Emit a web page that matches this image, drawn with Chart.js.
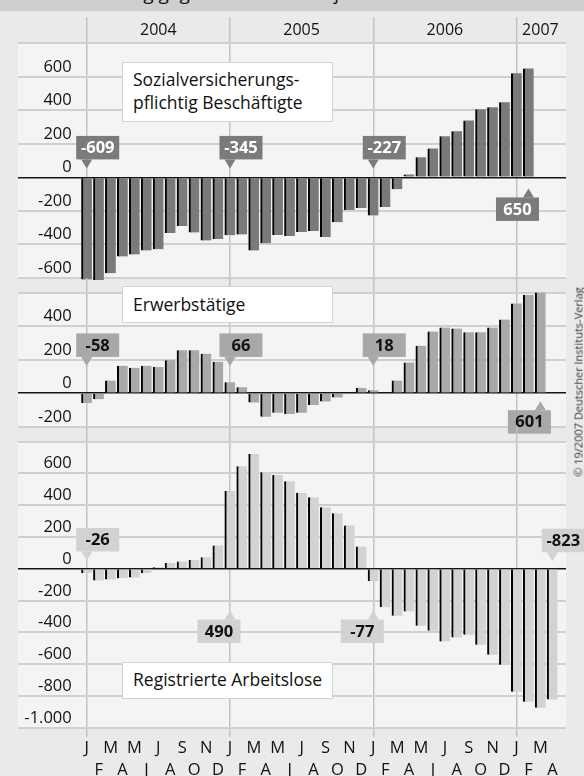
<!DOCTYPE html>
<html lang="de">
<head>
<meta charset="utf-8">
<title>Arbeitsmarkt 2004-2007</title>
<script src="https://cdn.jsdelivr.net/npm/chart.js@4.4.1/dist/chart.umd.min.js"></script>
<style>
  html, body { margin: 0; padding: 0; }
  body { position: relative; width: 584px; height: 776px; overflow: hidden; background: #eaeaea; font-family: "Open Sans", sans-serif; color: #111; }
  #kopf { position: absolute; left: 0; top: 0; width: 584px; height: 11px; background: #cfcfcf; overflow: hidden; }
  #kopf span { position: absolute; left: 38px; top: -16px; font-size: 19px; line-height: 19px; white-space: nowrap; }
  canvas { position: absolute; left: 0; top: 0; }
  .titel { position: absolute; left: 122px; width: 211px; box-sizing: border-box; background: #fff; border: 1.5px solid #d4d4d4; padding-left: 10px; font-size: 17.5px; line-height: 23px; z-index: 5; }
  #quelle { position: absolute; left: 578px; top: 382px; transform: translate(-50%, -50%) rotate(-90deg); white-space: nowrap; font-size: 11px; color: #333; z-index: 5; }
</style>
</head>
<body>
<div id="kopf"><span>Veränderung gegenüber dem Vorjahresmonat in 1.000</span></div>
<canvas id="chartSozial" width="584" height="776"></canvas>
<canvas id="chartErwerb" width="584" height="776"></canvas>
<canvas id="chartArbeitslos" width="584" height="776"></canvas>
<div class="titel" style="top:62px;height:60px;padding-top:5px">Sozialversicherungs-<br>pflichtig Beschäftigte</div>
<div class="titel" style="top:286px;height:37px;padding-top:6px">Erwerbstätige</div>
<div class="titel" style="top:662px;height:37px;padding-top:5px">Registrierte Arbeitslose</div>
<div id="quelle">© 19/2007 Deutscher Instituts-Verlag</div>

<script>
// Veraenderung gegenueber Vorjahresmonat in 1.000, ab Januar 2004
const monate = ['J', 'F', 'M', 'A', 'M', 'J', 'J', 'A', 'S', 'O', 'N', 'D']
const jahre = ['2004', '2005', '2006', '2007']

const sozial = [
  -609, -612, -571, -472, -460, -436, -428, -332, -290, -328, -376, -368,
  -345, -340, -436, -392, -344, -350, -326, -320, -356, -267, -195, -183,
  -227, -177, -70, 18, 121, 173, 245, 275, 340, 406, 418, 448,
  621, 650
]
const erwerb = [
  -58, -36, 76, 164, 152, 164, 156, 196, 256, 256, 236, 188,
  66, 36, -56, -140, -116, -124, -116, -70, -50, -26, 0, 32,
  18, 0, 76, 184, 284, 368, 392, 386, 364, 364, 392, 440,
  536, 586, 601
]
const arbeitslos = [
  -26, -74, -68, -59, -55, -28, 10, 36, 46, 55, 72, 147,
  490, 646, 722, 608, 591, 551, 478, 450, 387, 349, 273, 141,
  -77, -242, -295, -268, -358, -390, -457, -432, -415, -478, -541, -604,
  -773, -836, -874, -823
]

// hervorgehobene Monate (Index ab Januar 2004)
const markenSozial = [0, 12, 24, 37]
const markenErwerb = [0, 12, 24, 38]
const markenArbeitslos = [0, 12, 24, 39]

Chart.defaults.font.family = '"Open Sans", sans-serif'

const X0 = 86.7, SCHRITT = 11.94, LINKS = 80, RECHTS = 566
const xMin = (LINKS - X0) / SCHRITT
const xMax = (RECHTS - X0) / SCHRITT
const GITTER = '#cfcfcf', GITTER_V = '#c2c2c2', NULLLINIE = '#161616', LEER = 'rgba(0,0,0,0)'

let zahl = (v) => (v < 0 ? '-' : '') + String(Math.abs(v)).replace(/\B(?=(\d{3})+(?!\d))/g, '.')

let januar = (c) => (c.tick && c.tick.value % 12 === 0) ? GITTER_V : LEER

/* hellgraue Flaeche hinter jedem Block */
const hintergrund = {
  id: 'hintergrund',
  beforeDraw: (chart) => {
    const { ctx, chartArea, scales } = chart
    ctx.save()
    ctx.fillStyle = '#f3f5f4'
    ctx.fillRect(scales.y.left, chartArea.top, chartArea.right - scales.y.left, chartArea.bottom - chartArea.top)
    ctx.restore()
  }
}

/* Wertefahnen: dy < 0 Spitze nach unten, dy > 0 Spitze nach oben */
let marken = (liste, farbe, schrift) => ({
  id: 'marken',
  afterDatasetsDraw: (chart) => {
    const ctx = chart.ctx
    const sx = chart.scales.x, sy = chart.scales.y
    const y0 = sy.getPixelForValue(0)
    const punkte = chart.data.datasets[0].data
    ctx.save()
    ctx.font = 'bold 16.5px "Open Sans"'
    ctx.textAlign = 'center'
    ctx.textBaseline = 'middle'
    liste.forEach(m => {
      const px = sx.getPixelForValue(m.i)
      const spitze = y0 + m.dy
      const runter = m.dy < 0
      const bx = runter ? px - 10.5 : px - 32.5
      const by = runter ? spitze - 9 - 23.5 : spitze + 9
      const kante = runter ? by + 23.5 : by
      ctx.fillStyle = farbe
      ctx.fillRect(bx, by, 43, 23.5)
      ctx.beginPath()
      ctx.moveTo(px - 5.5, kante)
      ctx.lineTo(px + 5.5, kante)
      ctx.lineTo(px, spitze)
      ctx.closePath()
      ctx.fill()
      ctx.fillStyle = schrift
      ctx.fillText(zahl(punkte[m.i].y), bx + 21.5, by + 12.5)
    })
    ctx.restore()
  }
})

let oben = (hoehe, strich, ticks, beschriftung, abstand) => ({
  type: 'linear', position: 'top', min: xMin, max: xMax, bounds: 'data', offset: false,
  afterBuildTicks: s => { s.ticks = ticks.map(v => ({ value: v })) },
  afterFit: s => { s.height = hoehe },
  border: { display: false },
  grid: { offset: false, color: januar, lineWidth: 1.5, tickLength: strich },
  ticks: { autoSkip: false, maxRotation: 0, minRotation: 0, padding: abstand, color: '#111', font: { size: 16 }, callback: beschriftung }
})

let achseY = (min, max) => ({
  min: min, max: max,
  afterFit: s => { s.width = LINKS - 18 },
  border: { display: false },
  grid: {
    color: c => c.tick.value === 0 ? NULLLINIE : GITTER,
    lineWidth: c => c.tick.value === 0 ? 1.6 : 2,
    tickLength: LINKS - 18
  },
  ticks: { stepSize: 200, padding: -53.7, labelOffset: -9.7, color: '#111', font: { size: 16.5 }, callback: v => v === max ? '' : zahl(v) }
})

let balken = (werte, farbe) => ({
  data: werte.map((v, i) => ({ x: i, y: v })),
  xAxisID: 'x',
  yAxisID: 'y',
  backgroundColor: farbe,
  borderColor: '#000',
  borderWidth: { left: 2, right: 0, top: 0, bottom: 0 },
  borderSkipped: false,
  barThickness: 10.4,
  clip: false
})

let panel = (id, werte, farbe, scales, padding, fahnen) => new Chart(document.getElementById(id), {
  type: 'bar',
  data: { datasets: [balken(werte, farbe)] },
  options: {
    responsive: false,
    animation: false,
    layout: { padding: padding },
    plugins: { legend: { display: false }, tooltip: { enabled: false } },
    scales: scales
  },
  plugins: [hintergrund, fahnen]
})

/* Sozialversicherungspflichtig Beschaeftigte */
panel('chartSozial', sozial, '#7a7a7a', {
  x: oben(43.3, 26.3, [0, 6, 12, 18, 24, 30, 36, 38], v => {
    const k = [6, 18, 30, 38].indexOf(v)
    return k < 0 ? '' : jahre[k]
  }, -22.6),
  y: achseY(-600, 800)
}, { left: 18, right: 18, top: 0, bottom: 498 },
  marken(markenSozial.map((i, k) => ({ i: i, dy: k < 3 ? -9 : 11 })), '#7b7b7b', '#ffffff'))

/* Erwerbstaetige */
panel('chartErwerb', erwerb, '#a9a9a9', {
  x: oben(14.7, 14.7, [0, 12, 24, 36], () => '', 0),
  y: achseY(-200, 600)
}, { left: 18, right: 18, top: 278, bottom: 349.3 },
  marken(markenErwerb.map((i, k) => ({ i: i, dy: k < 3 ? -27.3 : 8 })), '#a8a8a8', '#111111'))

/* Registrierte Arbeitslose */
panel('chartArbeitslos', arbeitslos, '#d3d3d3', {
  x: oben(15, 15, [0, 12, 24, 36], () => '', 0),
  xu: {
    type: 'linear', position: 'bottom', min: xMin, max: xMax, bounds: 'data', offset: false,
    afterBuildTicks: s => { s.ticks = arbeitslos.map((v, i) => ({ value: i })) },
    afterFit: s => { s.height = 48.3 },
    border: { display: false },
    grid: { offset: false, drawOnChartArea: false, color: januar, lineWidth: 1.5, tickLength: 9 },
    ticks: {
      autoSkip: false, maxRotation: 0, minRotation: 0, padding: 1, color: '#111',
      font: { size: 16.5, lineHeight: 1.31 },
      callback: v => v % 2 === 0 ? monate[v % 12] : ['', monate[v % 12]]
    }
  },
  y: achseY(-1000, 800)
}, { left: 18, right: 18, top: 426.7, bottom: 0 },
  marken(markenArbeitslos.map((i, k) => ({ i: i, dy: [-8.3, 41.7, 41.7, -7.6][k] })), '#d2d2d2', '#111111'))
</script>
</body>
</html>
